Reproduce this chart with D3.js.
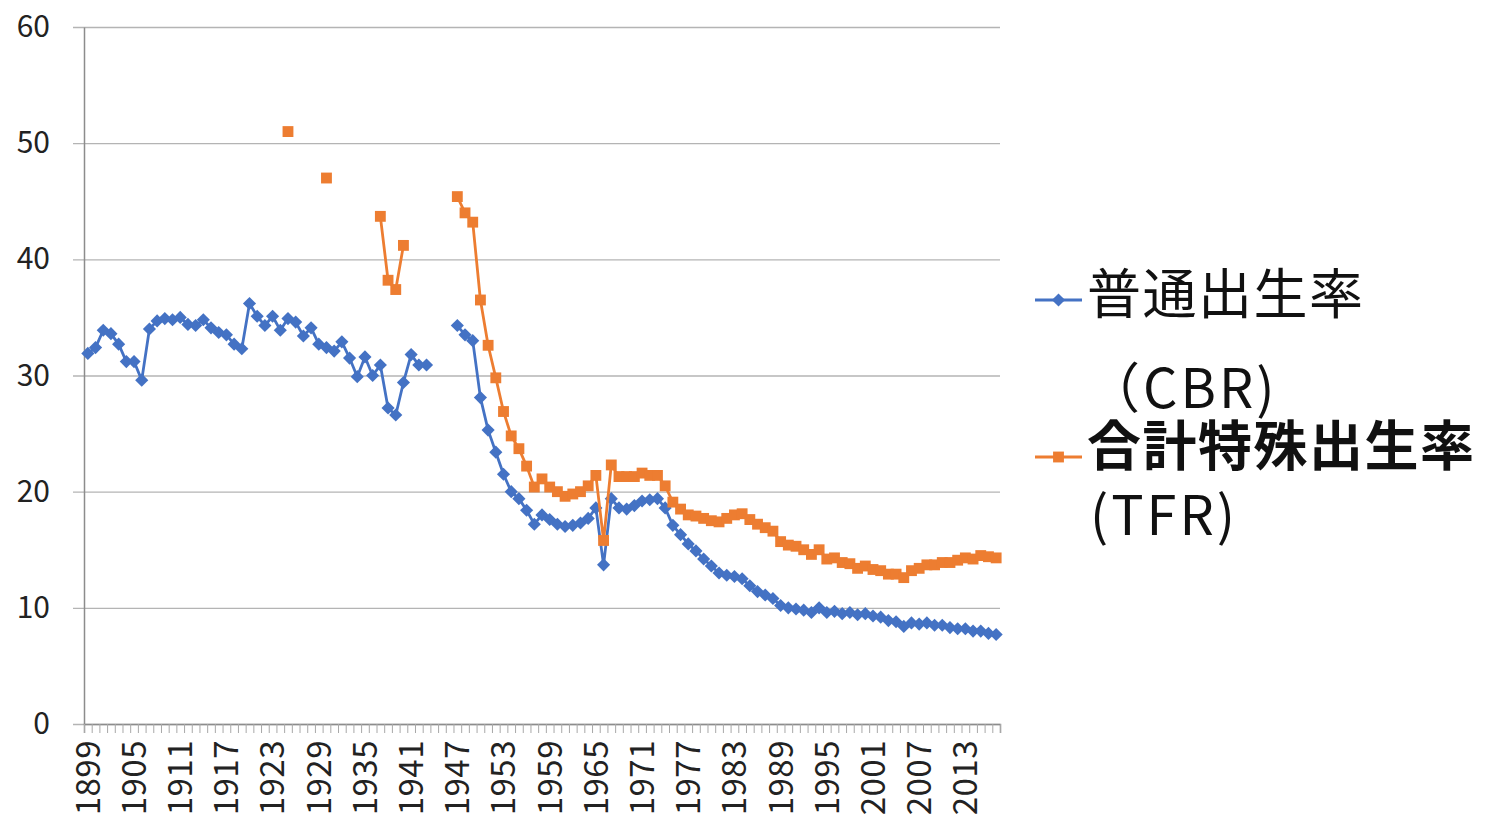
<!DOCTYPE html>
<html>
<head>
<meta charset="utf-8">
<script src="https://cdn.jsdelivr.net/npm/d3@7"></script>
<style>
  html, body { margin: 0; padding: 0; background: #fff; }
  svg { display: block; font-family: "Noto Sans CJK JP", "Noto Sans", sans-serif; }
</style>
</head>
<body>
<div id="chart"></div>
<script>
// 年 (1899〜2017)
const YEARS = d3.range(1899, 2018);

// 普通出生率 (CBR) — 1944〜1946 は欠測
const CBR = [
  31.9, 32.4, 33.9, 33.6, 32.7, 31.2, 31.2, 29.6, 34.0, 34.7,
  34.9, 34.8, 35.0, 34.4, 34.3, 34.8, 34.1, 33.7, 33.5, 32.7,
  32.3, 36.2, 35.1, 34.3, 35.1, 33.9, 34.9, 34.6, 33.4, 34.1,
  32.7, 32.4, 32.1, 32.9, 31.5, 29.9, 31.6, 30.0, 30.9, 27.2,
  26.6, 29.4, 31.8, 30.9, 30.9, null, null, null, 34.3, 33.5,
  33.0, 28.1, 25.3, 23.4, 21.5, 20.0, 19.4, 18.4, 17.2, 18.0,
  17.6, 17.2, 17.0, 17.1, 17.3, 17.7, 18.6, 13.7, 19.4, 18.6,
  18.5, 18.8, 19.2, 19.3, 19.4, 18.6, 17.1, 16.3, 15.5, 14.9,
  14.2, 13.6, 13.0, 12.8, 12.7, 12.5, 11.9, 11.4, 11.1, 10.8,
  10.2, 10.0, 9.9, 9.8, 9.6, 10.0, 9.6, 9.7, 9.5, 9.6,
  9.4, 9.5, 9.3, 9.2, 8.9, 8.8, 8.4, 8.7, 8.6, 8.7,
  8.5, 8.5, 8.3, 8.2, 8.2, 8.0, 8.0, 7.8, 7.7
];

// 合計特殊出生率 (TFR ×10) — 欠測年は null
const TFR = [
  null, null, null, null, null, null, null, null, null, null,
  null, null, null, null, null, null, null, null, null, null,
  null, null, null, null, null, null, 51.0, null, null, null,
  null, 47.0, null, null, null, null, null, null, 43.7, 38.2,
  37.4, 41.2, null, null, null, null, null, null, 45.4, 44.0,
  43.2, 36.5, 32.6, 29.8, 26.9, 24.8, 23.7, 22.2, 20.4, 21.1,
  20.4, 20.0, 19.6, 19.8, 20.0, 20.5, 21.4, 15.8, 22.3, 21.3,
  21.3, 21.3, 21.6, 21.4, 21.4, 20.5, 19.1, 18.5, 18.0, 17.9,
  17.7, 17.5, 17.4, 17.7, 18.0, 18.1, 17.6, 17.2, 16.9, 16.6,
  15.7, 15.4, 15.3, 15.0, 14.6, 15.0, 14.2, 14.3, 13.9, 13.8,
  13.4, 13.6, 13.3, 13.2, 12.9, 12.9, 12.6, 13.2, 13.4, 13.7,
  13.7, 13.9, 13.9, 14.1, 14.3, 14.2, 14.5, 14.4, 14.3
];

const Y_TICKS = [0, 10, 20, 30, 40, 50, 60];
const LABEL_STEP = 6;

const SERIES = [
  { name: "普通出生率", sub: "（CBR)", values: CBR, color: "#4472C4", marker: "diamond", bold: false },
  { name: "合計特殊出生率", sub: "(TFR)", values: TFR, color: "#ED7D31", marker: "square", bold: true }
];

const W = 1486, H = 819;
const plot = { left: 84, right: 1000, top: 27, bottom: 724 };

const svg = d3.select("#chart").append("svg")
  .attr("width", W)
  .attr("height", H);

const x = d3.scaleBand()
  .domain(YEARS)
  .range([plot.left, plot.right])
  .padding(0);

// 目盛り線はカテゴリの境界に置く
const xEdge = d3.scaleLinear()
  .domain([0, YEARS.length])
  .range([plot.left, plot.right]);

const y = d3.scaleLinear()
  .domain([0, 60])
  .range([plot.bottom, plot.top]);

// 横グリッド
svg.append("g")
  .attr("class", "grid")
  .attr("transform", `translate(${plot.left},0)`)
  .call(d3.axisLeft(y).tickValues(Y_TICKS).tickSize(-(plot.right - plot.left) - 11).tickFormat(""))
  .call(g => g.select(".domain").remove())
  .call(g => g.selectAll(".tick line")
    .attr("transform", "translate(-11,0)")
    .attr("stroke", "#b4b4b4")
    .attr("stroke-width", 1.3));

// Y軸ラベル
svg.append("g")
  .attr("transform", `translate(${plot.left},0)`)
  .call(d3.axisLeft(y).tickValues(Y_TICKS).tickSize(0).tickPadding(34))
  .call(g => g.select(".domain").attr("stroke", "#8c8c8c").attr("stroke-width", 1.5))
  .call(g => g.selectAll("text")
    .attr("font-family", "'Noto Sans CJK JP', sans-serif")
    .attr("font-size", 30)
    .attr("fill", "#222"));

// X軸（境界の目盛り）
svg.append("g")
  .attr("transform", `translate(0,${plot.bottom})`)
  .call(d3.axisBottom(xEdge).tickValues(d3.range(YEARS.length + 1)).tickSize(9).tickFormat(""))
  .call(g => g.select(".domain").attr("stroke", "#8c8c8c").attr("stroke-width", 1.5))
  .call(g => g.selectAll(".tick line").attr("stroke", "#a8a8a8").attr("stroke-width", 1));

// X軸ラベル（6年ごと、縦書き回転）
svg.append("g")
  .selectAll("text")
  .data(YEARS.filter((d, i) => i % LABEL_STEP === 0))
  .join("text")
  .attr("transform", d => `translate(${x(d) + x.bandwidth() / 2},740) rotate(-90)`)
  .attr("text-anchor", "end")
  .attr("dy", "0.36em")
  .attr("font-size", 33)
  .attr("letter-spacing", 0.5)
  .attr("fill", "#222")
  .text(d => d);

const diamond = d3.symbol().type(d3.symbolDiamond2).size(110);
const square = d3.symbol().type(d3.symbolSquare2).size(150);

function drawMarker(sel, s) {
  const sym = s.marker === "diamond" ? diamond : square;
  sel.append("path").attr("d", sym()).attr("fill", s.color);
}

// 系列
SERIES.forEach(s => {
  const pts = YEARS.map((yr, i) => ({ yr, v: s.values[i] }));
  const line = d3.line()
    .defined(d => d.v != null)
    .x(d => x(d.yr) + x.bandwidth() / 2)
    .y(d => y(d.v));

  svg.append("path")
    .datum(pts)
    .attr("fill", "none")
    .attr("stroke", s.color)
    .attr("stroke-width", 2.8)
    .attr("stroke-linejoin", "round")
    .attr("d", line);

  svg.append("g")
    .selectAll("g")
    .data(pts.filter(d => d.v != null))
    .join("g")
    .attr("transform", d => `translate(${x(d.yr) + x.bandwidth() / 2},${y(d.v)})`)
    .each(function () { drawMarker(d3.select(this), s); });
});

// 凡例
const legendRows = [
  { s: SERIES[0], markY: 300, nameY: 314, subX: 1086, subY: 408 },
  { s: SERIES[1], markY: 457, nameY: 466, subX: 1090, subY: 535 }
];

legendRows.forEach(r => {
  const g = svg.append("g");
  g.append("line")
    .attr("x1", 1035).attr("x2", 1082)
    .attr("y1", r.markY).attr("y2", r.markY)
    .attr("stroke", r.s.color)
    .attr("stroke-width", 2.8);
  const m = g.append("g").attr("transform", `translate(1058.5,${r.markY})`);
  drawMarker(m, r.s);

  g.append("text")
    .attr("x", 1087)
    .attr("y", r.nameY)
    .attr("font-size", 54)
    .attr("letter-spacing", 1.5)
    .attr("font-weight", r.s.bold ? "bold" : "normal")
    .attr("fill", "#111")
    .text(r.s.name);

  g.append("text")
    .attr("x", r.subX)
    .attr("y", r.subY)
    .attr("font-size", 54)
    .attr("letter-spacing", 3)
    .attr("fill", "#111")
    .text(r.s.sub);
});
</script>
</body>
</html>
